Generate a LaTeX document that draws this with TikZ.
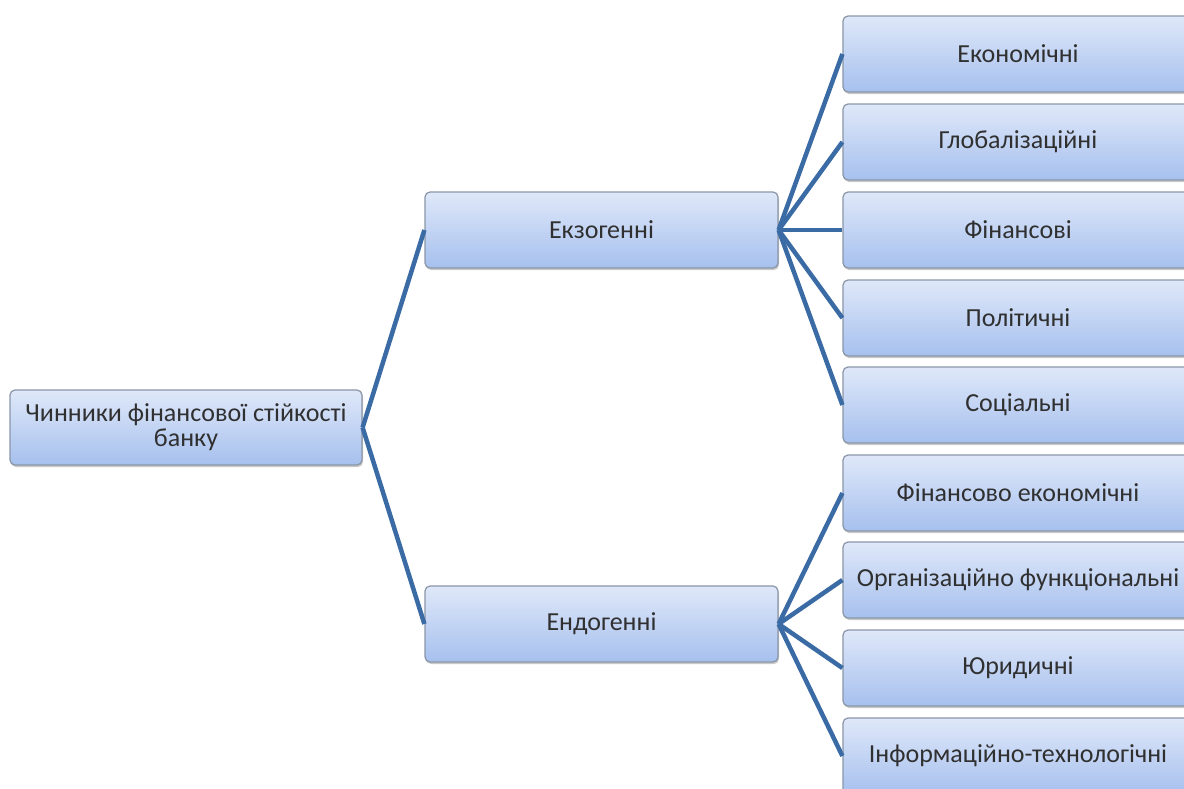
\documentclass[tikz,border=0pt]{standalone}
\usepackage{fontspec}
\setmainfont{Carlito}
\usetikzlibrary{shadows}
\definecolor{linec}{HTML}{3B6BA5}
\definecolor{boxtop}{HTML}{DFE8F9}
\definecolor{boxbot}{HTML}{A6C0EE}
\definecolor{boxdraw}{HTML}{8A96A8}
\definecolor{txt}{HTML}{303030}
\begin{document}
\begin{tikzpicture}[x=1pt,y=-1pt,
  box/.style={draw=boxdraw, line width=1.2pt, rounded corners=5pt,
    top color=boxtop, bottom color=boxbot, minimum height=76pt,
    text=txt, font=\fontsize{26}{25}\selectfont, inner sep=0pt, align=center,
    drop shadow={shadow xshift=1pt, shadow yshift=-2pt, opacity=0.35, fill=black!60}},
  mid/.style={box, minimum width=353pt},
  leaf/.style={box, minimum width=350pt},
  conn/.style={draw=linec, line width=4.5pt}]
\clip (0,0) rectangle (1184,788);
\fill[white] (0,0) rectangle (1184,788);
% nodes
\node[box, minimum width=352pt, minimum height=75pt] (root) at (186,427.5) {Чинники фінансової стійкості\\банку};
\node[mid] (exo) at (601.5,230) {Екзогенні};
\node[mid] (endo) at (601.5,624) {Ендогенні};
\node[leaf] (e1) at (1018,54) {Економічні};
\node[leaf] (e2) at (1018,142) {Глобалізаційні};
\node[leaf] (e3) at (1018,230) {Фінансові};
\node[leaf] (e4) at (1018,318) {Політичні};
\node[leaf] (e5) at (1018,405) {Соціальні};
\node[leaf] (n1) at (1018,493) {Фінансово економічні};
\node[leaf] (n2) at (1018,580) {Організаційно функціональні};
\node[leaf] (n3) at (1018,668) {Юридичні};
\node[leaf] (n4) at (1018,756) {Інформаційно-технологічні};
% connectors
\foreach \c in {exo,endo} \draw[conn] (root.east) -- (\c.west);
\foreach \c in {e1,e2,e3,e4,e5} \draw[conn] (exo.east) -- (\c.west);
\foreach \c in {n1,n2,n3,n4} \draw[conn] (endo.east) -- (\c.west);
\end{tikzpicture}
\end{document}
